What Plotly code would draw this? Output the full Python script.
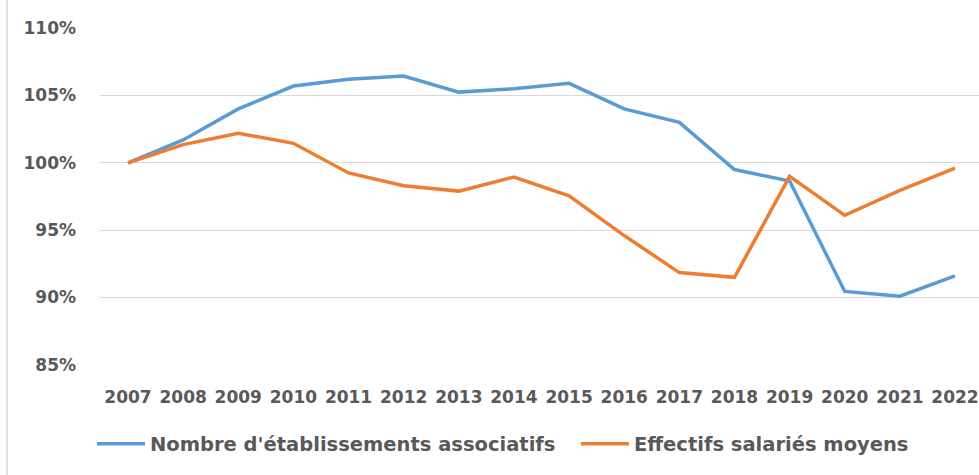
import plotly.graph_objects as go

years = list(range(2007, 2023))
year_labels = [str(y) for y in years]
etablissements = [100, 101.7, 104.0, 105.7, 106.2, 106.45, 105.25, 105.5, 105.9, 104.0, 103.0, 99.5, 98.65, 90.45, 90.1, 91.6]
effectifs = [100, 101.35, 102.2, 101.45, 99.25, 98.3, 97.9, 98.95, 97.55, 94.6, 91.85, 91.5, 99.0, 96.1, 97.95, 99.6]
y_ticks = [85, 90, 95, 100, 105, 110]
y_tick_labels = ["85%", "90%", "95%", "100%", "105%", "110%"]
series_names = ["Nombre d'établissements associatifs", "Effectifs salariés moyens"]
colors = ["#5B9BD5", "#ED7D31"]

font_family = "DejaVu Sans"
text_color = "#595959"

W, H = 979, 475
ML, MT, MB = 100, 28, 110

fig = go.Figure()
for i, (name, vals, col) in enumerate(zip(series_names, [etablissements, effectifs], colors)):
    fig.add_trace(go.Scatter(
        x=years, y=vals, mode="lines", name=name,
        line=dict(color=col, width=3.5),
        legend="legend" if i == 0 else "legend2",
    ))

legend_font = dict(family=font_family, size=19.5, color=text_color, weight="bold")
fig.update_layout(
    width=W, height=H,
    margin=dict(l=ML, r=0, t=MT, b=MB, pad=0),
    paper_bgcolor="white", plot_bgcolor="white",
    font=dict(family=font_family, size=17, color=text_color, weight="bold"),
    showlegend=True,
    legend=dict(
        orientation="h", xref="container", yref="container",
        x=92 / W, xanchor="left", y=(H - 444) / H, yanchor="middle",
        itemwidth=48, font=legend_font, bgcolor="rgba(0,0,0,0)",
    ),
    legend2=dict(
        orientation="h", xref="container", yref="container",
        x=576 / W, xanchor="left", y=(H - 444) / H, yanchor="middle",
        itemwidth=48, font=legend_font, bgcolor="rgba(0,0,0,0)",
    ),
    xaxis=dict(
        range=[2006.492, 2022.435],
        tickmode="array", tickvals=years, ticktext=year_labels,
        showgrid=False, zeroline=False, showline=False, ticks="",
        ticklabelstandoff=20,
        tickfont=dict(family=font_family, size=17, color=text_color, weight="bold"),
    ),
    yaxis=dict(
        range=[84.99, 110.01],
        tickmode="array", tickvals=y_ticks, ticktext=y_tick_labels,
        showgrid=True, gridcolor="#d9d9d9", gridwidth=1.2,
        zeroline=False, showline=False, ticks="",
        ticklabelstandoff=23,
        tickfont=dict(family=font_family, size=17, color=text_color, weight="bold"),
    ),
    shapes=[dict(
        type="line", xref="paper", yref="paper",
        x0=(7 - ML) / 879, x1=(7 - ML) / 879, y0=-1, y1=2,
        line=dict(color="#d9d9d9", width=1.5),
    )],
)

fig.write_html(
    "out.html",
    config={"displayModeBar": False},
    post_script="document.body.style.margin='0';document.body.style.overflow='hidden';",
)
